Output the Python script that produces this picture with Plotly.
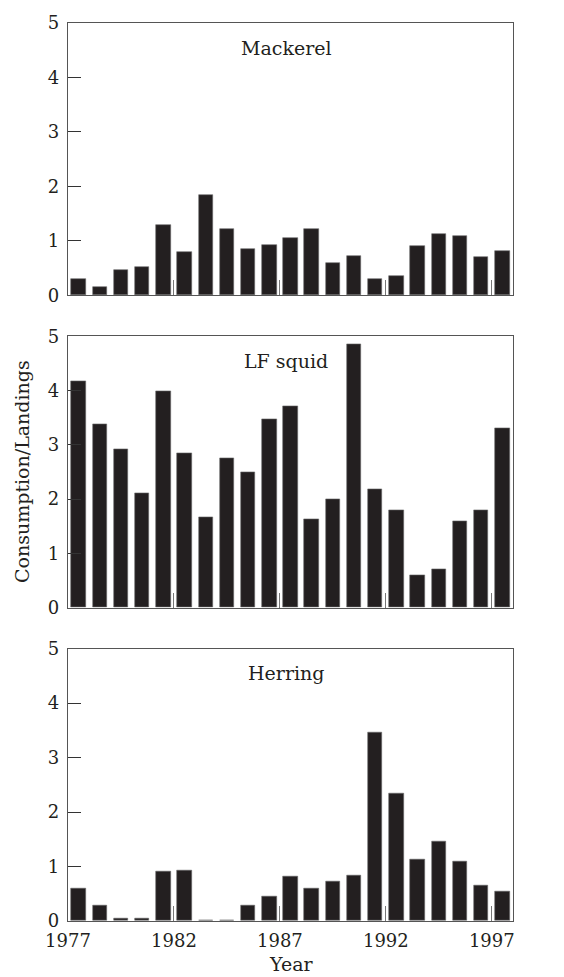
import plotly.graph_objects as go

years = list(range(1977, 1998))
mackerel = [0.31, 0.15, 0.47, 0.53, 1.30, 0.80, 1.84, 1.22, 0.85, 0.93, 1.06,
            1.22, 0.59, 0.72, 0.31, 0.365, 0.90, 1.13, 1.10, 0.71, 0.82]
lf_squid = [4.18, 3.38, 2.92, 2.10, 3.99, 2.85, 1.66, 2.75, 2.50, 3.48, 3.71,
            1.63, 2.00, 4.86, 2.18, 1.80, 0.60, 0.71, 1.60, 1.80, 3.30]
herring = [0.59, 0.29, 0.05, 0.05, 0.90, 0.93, 0.015, 0.015, 0.28, 0.445, 0.82,
           0.60, 0.72, 0.84, 3.45, 2.335, 1.12, 1.45, 1.085, 0.66, 0.55]
species = ["Mackerel", "LF squid", "Herring"]
series = [mackerel, lf_squid, herring]
x_ticks = [1977, 1982, 1987, 1992, 1997]
y_ticks = [0, 1, 2, 3, 4, 5]

TEXT_FONT = dict(family="DejaVu Serif", size=19, color="#231f20")
TICK_FONT = dict(family="DejaVu Serif", size=18, color="#231f20")
BAR_COLOR = "#231f20"
H = 977.0
top_m, bot_m = 18, 56
plot_h = H - top_m - bot_m
# panel pixel extents (top, bottom)
panels_px = [(18, 292), (333, 606), (647, 921)]
domains = [[(921 - b) / plot_h, (921 - t) / plot_h] for t, b in panels_px]

fig = go.Figure()
layout = dict(
    width=564, height=977,
    margin=dict(l=68, r=51, t=top_m, b=bot_m),
    paper_bgcolor="white", plot_bgcolor="white",
    showlegend=False, bargap=0,
    font=TEXT_FONT,
)
for i, (name, vals) in enumerate(zip(species, series)):
    n = "" if i == 0 else str(i + 1)
    fig.add_trace(go.Bar(
        x=[y + 0.5 for y in years], y=vals, width=0.68,
        marker=dict(color=BAR_COLOR, line=dict(color="#6a6a6a", width=0.6)),
        xaxis="x" + n, yaxis="y" + n, name=name,
    ))
    layout["xaxis" + n] = dict(
        domain=[0, 1], anchor="y" + n, range=[1977, 1998],
        tickvals=x_ticks, ticks="inside", ticklen=15, tickwidth=1,
        tickcolor="#777", showticklabels=(i == 2), tickfont=TICK_FONT,
        ticklabelstandoff=3,
        showline=True, linecolor="#555", linewidth=1.2, mirror=True,
        showgrid=False, zeroline=False, fixedrange=True,
    )
    layout["yaxis" + n] = dict(
        domain=domains[i], anchor="x" + n, range=[0, 5],
        tickvals=y_ticks, ticks="inside", ticklen=13, tickwidth=1,
        tickcolor="#333", tickfont=TICK_FONT, ticklabelstandoff=4,
        showline=True, linecolor="#555", linewidth=1.2, mirror=True,
        showgrid=False, zeroline=False, fixedrange=True,
    )

annotations = []
for i, name in enumerate(species):
    n = "" if i == 0 else str(i + 1)
    annotations.append(dict(
        text=name, xref=("x" + n + " domain"), yref=("y" + n + " domain"),
        x=0.49, y=1 - 25 / 274, xanchor="center", yanchor="middle",
        showarrow=False, font=TEXT_FONT,
    ))
annotations.append(dict(
    text="Consumption/Landings", xref="paper", yref="paper",
    x=0, y=0.5, xshift=-46, xanchor="center", yanchor="middle",
    textangle=-90, showarrow=False, font=TEXT_FONT,
))
annotations.append(dict(
    text="Year", xref="paper", yref="paper",
    x=0.5, y=0, yshift=-43, xanchor="center", yanchor="middle",
    showarrow=False, font=TEXT_FONT,
))
layout["annotations"] = annotations
fig.update_layout(**layout)
fig.write_html("out.html")
